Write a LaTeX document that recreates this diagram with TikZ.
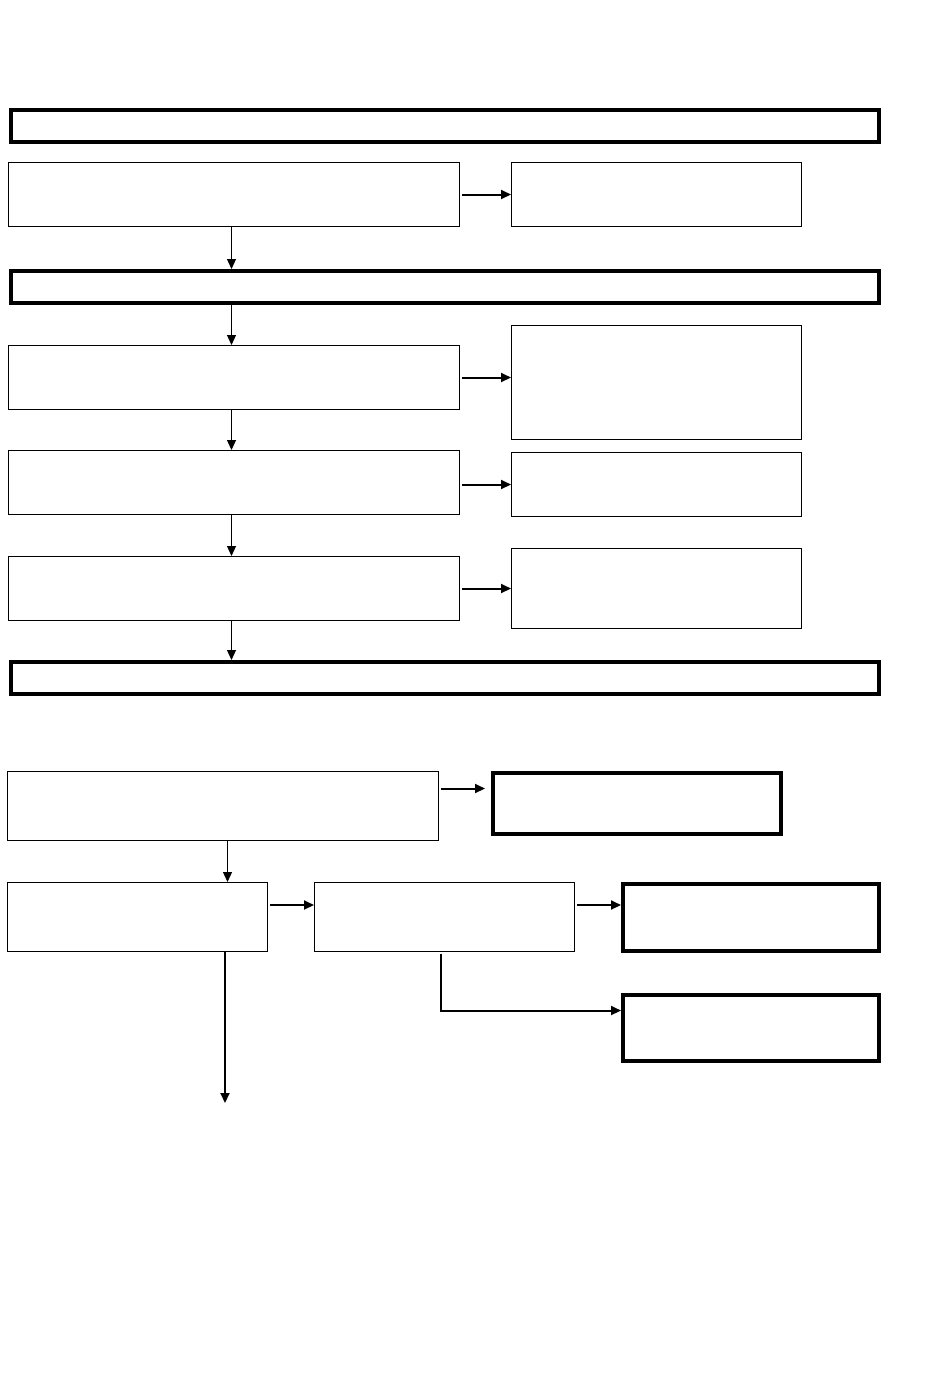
\documentclass[tikz,border=0pt]{standalone}
\usetikzlibrary{arrows.meta}

\begin{document}
\begin{tikzpicture}[x=0.5pt,y=-0.5pt]
\tikzstyle{block} = [rectangle, draw, line width=0.5pt, anchor=north west, inner sep=0pt]
\tikzstyle{block_thick} = [rectangle, draw, line width=2pt, anchor=north west, inner sep=0pt]
\tikzstyle{bar} = [block_thick, minimum width=434pt, minimum height=16pt]
\tikzstyle{line} = [draw, line width=0.6pt, -{Triangle[length=5pt,width=4.5pt]}]
\tikzstyle{line_h} = [draw, line width=1pt, -{Triangle[length=5pt,width=4.5pt]}]

\useasboundingbox (0,0) rectangle (950,1387);

% upper part
\node [bar] (stage1) at (9,108) {};
\node [block, minimum width=225.5pt, minimum height=32pt] (check1) at (8,162) {};
\node [block, minimum width=145pt, minimum height=32pt] (res1) at (511,162) {};
\node [bar] (stage2) at (9,269) {};
\node [block, minimum width=225.5pt, minimum height=32pt] (check2) at (8,345) {};
\node [block, minimum width=145pt, minimum height=57pt] (res2) at (511,325) {};
\node [block, minimum width=225.5pt, minimum height=32pt] (check3) at (8,450) {};
\node [block, minimum width=145pt, minimum height=32pt] (res3) at (511,452) {};
\node [block, minimum width=225.5pt, minimum height=32pt] (check4) at (8,556) {};
\node [block, minimum width=145pt, minimum height=40pt] (res4) at (511,548) {};
\node [bar] (stage3) at (9,660) {};

% lower part
\node [block, minimum width=215.5pt, minimum height=34.5pt] (test1) at (7,771) {};
\node [block_thick, minimum width=144pt, minimum height=30.5pt] (out1) at (491,771) {};
\node [block, minimum width=130pt, minimum height=34.5pt] (test2) at (7,882) {};
\node [block, minimum width=130pt, minimum height=34.5pt] (test3) at (314,882) {};
\node [block_thick, minimum width=128pt, minimum height=33.5pt] (out2) at (621,882) {};
\node [block_thick, minimum width=128pt, minimum height=33pt] (out3) at (621,993) {};
\coordinate (next) at (225,1103);

\path [line_h] ([xshift=1pt]check1.east) -- (res1.west);
\path [line] ([xshift=-1.25pt]check1.south) -- ([xshift=-1.25pt]check1.south |- stage2.north);
\path [line] ([xshift=-1.25pt]check1.south |- stage2.south) -- ([xshift=-1.25pt]check2.north);
\path [line_h] ([xshift=1pt]check2.east) -- (check2.east -| res2.west);
\path [line] ([xshift=-1.25pt]check2.south) -- ([xshift=-1.25pt]check3.north);
\path [line_h] ([xshift=1pt,yshift=-1pt]check3.east) -- ([yshift=-1pt]check3.east -| res3.west);
\path [line] ([xshift=-1.25pt]check3.south) -- ([xshift=-1.25pt]check4.north);
\path [line_h] ([xshift=1pt]check4.east) -- (check4.east -| res4.west);
\path [line] ([xshift=-1.25pt]check4.south) -- ([xshift=-1.25pt]check4.south |- stage3.north);

\path [line_h] ([xshift=1pt,yshift=8.75pt]test1.east) -- ([xshift=-3pt,yshift=8.75pt]test1.east -| out1.west);
\path [line] ([xshift=2.25pt]test1.south) -- ([xshift=2.25pt]test1.south |- test2.north);
\path [line_h] ([xshift=1pt,yshift=6pt]test2.east) -- ([yshift=6pt]test2.east -| test3.west);
\path [line_h] ([xshift=1pt,yshift=6pt]test3.east) -- ([yshift=6pt]test3.east -| out2.west);
\path [line_h] ([xshift=-2pt,yshift=-1pt]test3.south) |- ([yshift=8.75pt]out3.west);
\path [line_h] (test2.south -| next) -- (next);

\end{tikzpicture}
\end{document}
